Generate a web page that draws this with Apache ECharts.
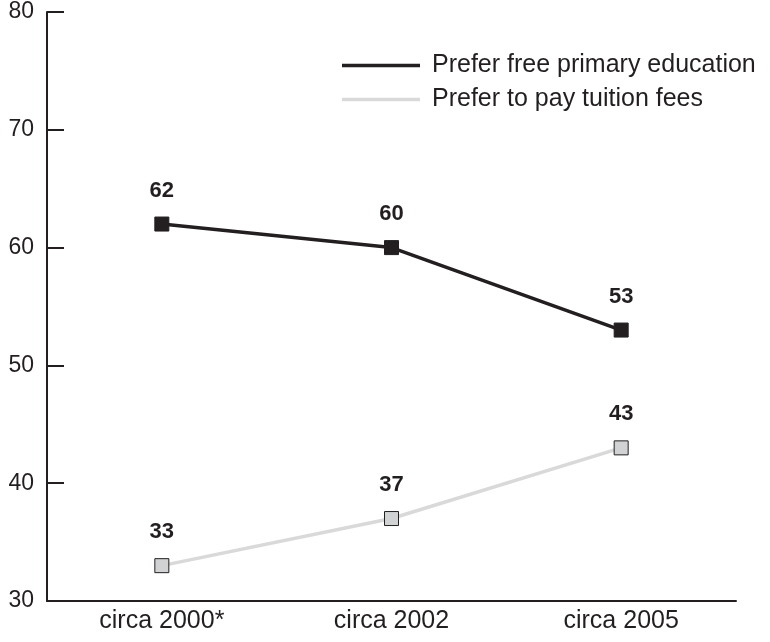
<!DOCTYPE html>
<html><head><meta charset="utf-8">
<script src="https://cdn.jsdelivr.net/npm/echarts@6/dist/echarts.min.js"></script>
<style>html,body{margin:0;padding:0;background:#fff}#c{width:770px;height:642px}</style>
</head><body><div id="c"></div>
<script>
const categories = ['circa 2000*', 'circa 2002', 'circa 2005'];
const freeEducation = [62, 60, 53];
const payFees = [33, 37, 43];
const seriesNames = ['Prefer free primary education', 'Prefer to pay tuition fees'];

const chart = echarts.init(document.getElementById('c'));
const font = 'Liberation Sans, Arial, sans-serif';
chart.setOption({
  animation: false,
  grid: {left: 47, right: 34, top: 12, bottom: 41},
  legend: {
    left: 337, top: 48, orient: 'vertical', itemWidth: 78, itemHeight: 24, itemGap: 9,
    textStyle: {fontSize: 25, color: '#231f20', fontFamily: font, padding: [0,0,0,7]},
    data: [
      {name: seriesNames[0], icon: 'path://M0,0L100,0L100,4.5L0,4.5Z', itemStyle:{color:'#231f20', borderWidth:0}},
      {name: seriesNames[1], icon: 'path://M0,0L100,0L100,4.5L0,4.5Z', itemStyle:{color:'#d9d9d9', borderWidth:0}}
    ]
  },
  xAxis: {
    type: 'category', data: categories, boundaryGap: true,
    axisLine: {lineStyle: {color: '#231f20', width: 2}},
    axisTick: {inside: true, length: 12, lineStyle: {color: '#231f20', width: 2}},
    axisLabel: {fontSize: 25, color: '#231f20', fontFamily: font, margin: 8}
  },
  yAxis: {
    type: 'value', min: 30, max: 80, interval: 10,
    axisLine: {show: true, lineStyle: {color: '#231f20', width: 2}},
    axisTick: {show: true, inside: true, length: 17, lineStyle: {color: '#231f20', width: 2}},
    splitLine: {show: false},
    axisLabel: {fontSize: 23, color: '#231f20', fontFamily: font, margin: 13, padding: [4,0,0,0]}
  },
  series: [
    {
      name: seriesNames[0], type: 'line', data: freeEducation,
      symbol: 'rect', symbolSize: 14,
      lineStyle: {color: '#231f20', width: 3.5},
      itemStyle: {color: '#231f20', borderColor: '#231f20', borderWidth: 1},
      label: {show: true, position: 'top', distance: 15, fontSize: 22, fontWeight: 'bold', color: '#231f20', fontFamily: font}
    },
    {
      name: seriesNames[1], type: 'line', data: payFees,
      symbol: 'rect', symbolSize: 14,
      lineStyle: {color: '#d9d9d9', width: 3.5},
      itemStyle: {color: '#d1d2d4', borderColor: '#231f20', borderWidth: 1},
      label: {show: true, position: 'top', distance: 15, fontSize: 22, fontWeight: 'bold', color: '#231f20', fontFamily: font}
    }
  ]
});
</script></body></html>
